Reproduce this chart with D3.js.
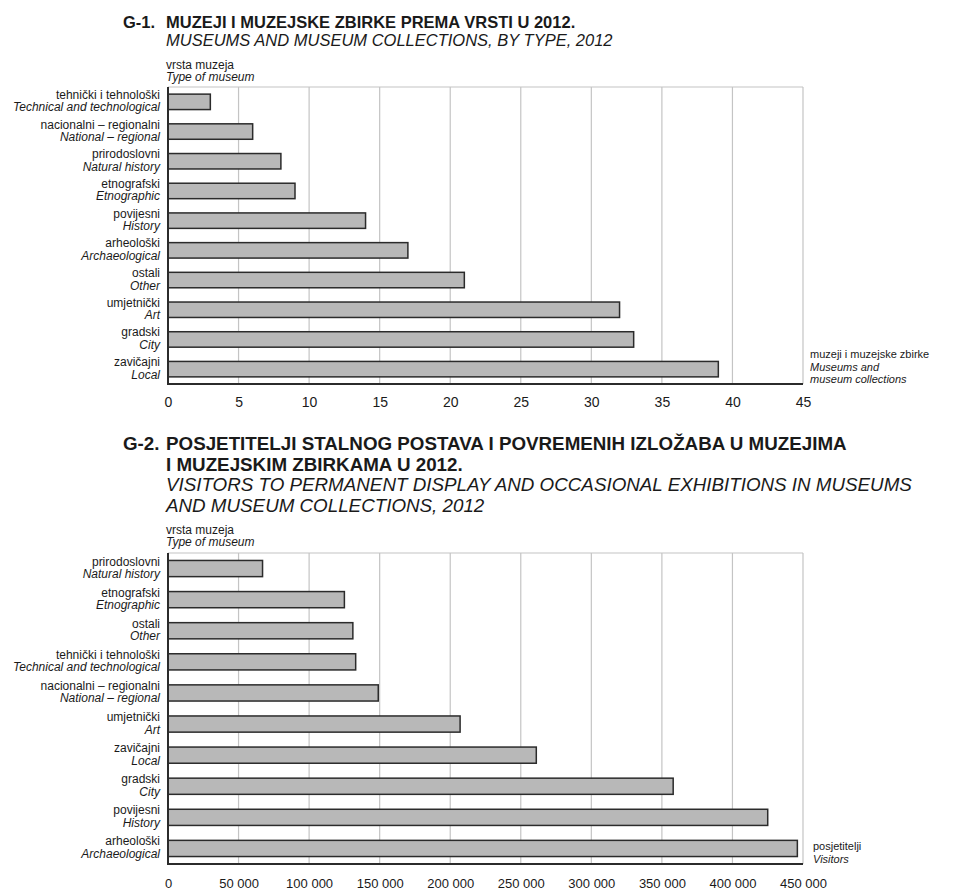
<!DOCTYPE html>
<html><head><meta charset="utf-8">
<script src="https://cdn.jsdelivr.net/npm/d3@7"></script>
<style>
html,body{margin:0;padding:0;background:#fff;}
text{font-family:"Liberation Sans",Arial,Helvetica,sans-serif;fill:#1a1a1a;}
</style></head>
<body><svg id="c" width="957" height="890"></svg>
<script>
// ---------- DATA ----------
const cat1Hr = ["tehnički i tehnološki","nacionalni – regionalni","prirodoslovni","etnografski","povijesni","arheološki","ostali","umjetnički","gradski","zavičajni"];
const cat1En = ["Technical and technological","National – regional","Natural history","Etnographic","History","Archaeological","Other","Art","City","Local"];
const museums = [3,6,8,9,14,17,21,32,33,39];
const ticks1 = [0,5,10,15,20,25,30,35,40,45];
const tickLabels1 = ["0","5","10","15","20","25","30","35","40","45"];

const cat2Hr = ["prirodoslovni","etnografski","ostali","tehnički i tehnološki","nacionalni – regionalni","umjetnički","zavičajni","gradski","povijesni","arheološki"];
const cat2En = ["Natural history","Etnographic","Other","Technical and technological","National – regional","Art","Local","City","History","Archaeological"];
const visitors = [67000,125000,131000,133000,149000,207000,261000,358000,425000,446000];
const ticks2 = [0,50000,100000,150000,200000,250000,300000,350000,400000,450000];
const tickLabels2 = ["0","50 000","100 000","150 000","200 000","250 000","300 000","350 000","400 000","450 000"];

const svg = d3.select("#c");

function chart(o){
  const g = svg.append("g");
  const x = d3.scaleLinear().domain([0,o.max]).range([168,803]);
  const y = d3.scaleBand().domain(o.hr).range([o.top,o.bottom]).paddingInner(0.48).paddingOuter(0.24);
  g.selectAll("line.grid").data(o.ticks.slice(1)).join("line")
    .attr("x1",d=>x(d)).attr("x2",d=>x(d)).attr("y1",o.top).attr("y2",o.bottom)
    .attr("stroke","#c4c4c4").attr("stroke-width",1.2);
  g.append("line").attr("x1",x(0)).attr("x2",x(o.max)).attr("y1",o.top).attr("y2",o.top)
    .attr("stroke","#c4c4c4").attr("stroke-width",1.2);
  g.selectAll("rect.bar").data(o.vals).join("rect")
    .attr("x",x(0)).attr("y",(d,i)=>y(o.hr[i]))
    .attr("width",d=>x(d)-x(0)).attr("height",y.bandwidth())
    .attr("fill","#b8b8b8").attr("stroke","#2b2b2b").attr("stroke-width",1.5);
  g.append("line").attr("x1",x(0)).attr("x2",x(0)).attr("y1",o.top).attr("y2",o.bottom+1)
    .attr("stroke","#2b2b2b").attr("stroke-width",2);
  g.append("line").attr("x1",x(0)-1).attr("x2",x(o.max)).attr("y1",o.bottom).attr("y2",o.bottom)
    .attr("stroke","#2b2b2b").attr("stroke-width",2);
  const ax = d3.axisBottom(x).tickValues(o.ticks).tickSize(0).tickPadding(0)
    .tickFormat((d,i)=>o.tickLabels[i]);
  const axg = g.append("g").attr("transform",`translate(0,${o.tickY})`).call(ax);
  axg.select(".domain").remove();
  axg.selectAll("text").attr("dy",0).attr("y",0).style("font-size",o.tickFs+"px").style("fill","#1a1a1a")
    .style("font-family",'"Liberation Sans",Arial,sans-serif');
  const lab = g.selectAll("g.lab").data(o.hr).join("g")
    .attr("transform",d=>`translate(160,${y(d)+y.bandwidth()/2})`);
  lab.append("text").attr("text-anchor","end").attr("y",-3).style("font-size","12px").text(d=>d);
  lab.append("text").attr("text-anchor","end").attr("y",9.5).style("font-size","12px").style("font-style","italic")
    .text((d,i)=>o.en[i]);
  g.append("text").attr("x",166).attr("y",o.top-o.vOff-12.5).style("font-size","12px").text("vrsta muzeja");
  g.append("text").attr("x",166).attr("y",o.top-o.vOff).style("font-size","12px").style("font-style","italic").text("Type of museum");
  o.right.forEach((t,i)=>{
    g.append("text").attr("x",o.rightX).attr("y",o.rightY+i*12.5).style("font-size","11px")
      .style("font-style",i===0?"normal":"italic").text(t);
  });
}

function title(lines, label, fs){
  svg.append("text").attr("x",123).attr("y",lines[0].y).style("font-size",fs+"px").style("font-weight","bold").text(label);
  lines.forEach(l=>{
    svg.append("text").attr("x",166).attr("y",l.y).style("font-size",fs+"px")
      .style("font-weight",l.it?"normal":"bold").style("font-style",l.it?"italic":"normal").text(l.t);
  });
}
title([{t:"MUZEJI I MUZEJSKE ZBIRKE PREMA VRSTI U 2012.",y:27.5},
       {t:"MUSEUMS AND MUSEUM COLLECTIONS, BY TYPE, 2012",y:46,it:true}],"G-1.",16.5);
title([{t:"POSJETITELJI STALNOG POSTAVA I POVREMENIH IZLOŽABA U MUZEJIMA",y:450},
       {t:"I MUZEJSKIM ZBIRKAMA U 2012.",y:471},
       {t:"VISITORS TO PERMANENT DISPLAY AND OCCASIONAL EXHIBITIONS IN MUSEUMS",y:491,it:true},
       {t:"AND MUSEUM COLLECTIONS, 2012",y:512,it:true}],"G-2.",18.8);

chart({hr:cat1Hr,en:cat1En,vals:museums,max:45,ticks:ticks1,tickLabels:tickLabels1,
  top:87,bottom:384,tickY:407,tickFs:14,vOff:6,
  right:["muzeji i muzejske zbirke","Museums and","museum collections"],rightX:810,rightY:358});
chart({hr:cat2Hr,en:cat2En,vals:visitors,max:450000,ticks:ticks2,tickLabels:tickLabels2,
  top:553,bottom:864,tickY:888,tickFs:13,vOff:7,
  right:["posjetitelji","Visitors"],rightX:813,rightY:850});
</script></body></html>
